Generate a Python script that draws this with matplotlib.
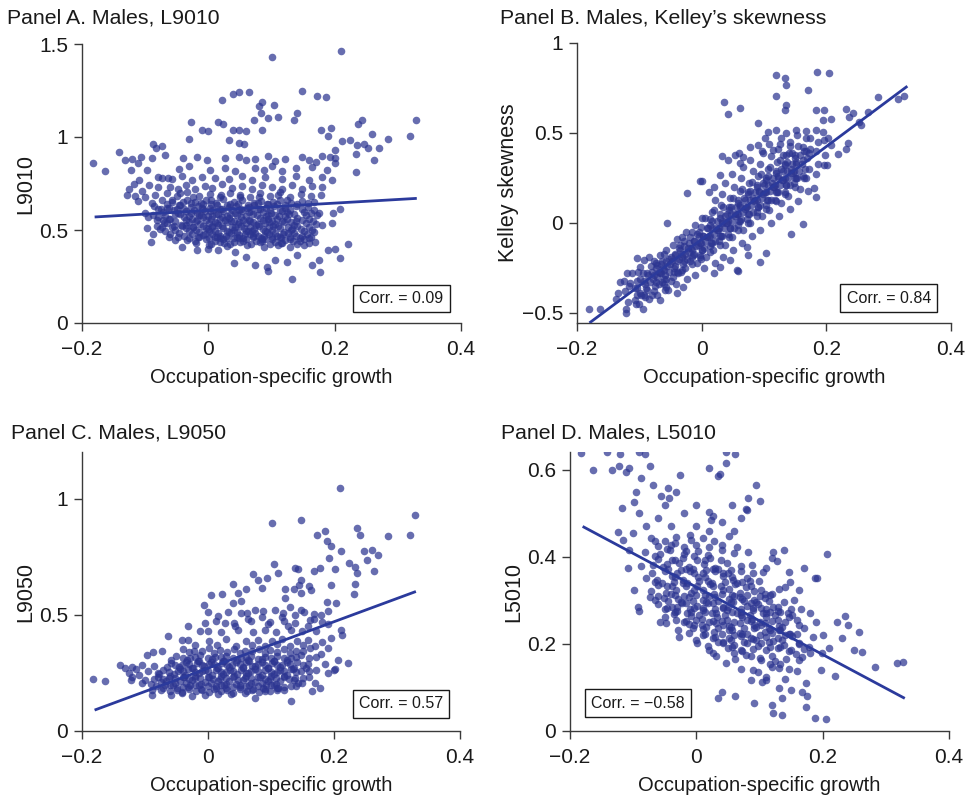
import numpy as np
import matplotlib
matplotlib.use("Agg")
import matplotlib.pyplot as plt

plt.rcParams['font.family'] = ['Liberation Sans', 'DejaVu Sans']

# ---------------- data ----------------
panel_titles = ["Panel A. Males, L9010", "Panel B. Males, Kelley\u2019s skewness",
                "Panel C. Males, L9050", "Panel D. Males, L5010"]
y_labels = ["L9010", "Kelley skewness", "L9050", "L5010"]
x_label = "Occupation-specific growth"
corr_texts = ["Corr. = 0.09", "Corr. = 0.84", "Corr. = 0.57", "Corr. = \u22120.58"]

x_ticks = [-0.2, 0.0, 0.2, 0.4]
x_tick_labels = ["\u22120.2", "0", "0.2", "0.4"]
a_yticks = [0, 0.5, 1, 1.5]
a_ytick_labels = ["0", "0.5", "1", "1.5"]
b_yticks = [-0.5, 0, 0.5, 1]
b_ytick_labels = ["\u22120.5", "0", "0.5", "1"]
c_yticks = [0, 0.5, 1]
c_ytick_labels = ["0", "0.5", "1"]
d_yticks = [0, 0.2, 0.4, 0.6]
d_ytick_labels = ["0", "0.2", "0.4", "0.6"]

# fitted lines (endpoints)
fit_x = [-0.18, 0.33]
a_fit_y = [0.57, 0.67]
b_fit_y = [-0.555, 0.76]
c_fit_y = [0.09, 0.60]
d_fit_y = [0.47, 0.075]

a_points = [
(0.101,1.43),(0.210,1.46),(0.022,1.20),(0.039,1.23),(0.049,1.24),(0.064,1.24),(0.148,1.25),(0.172,1.22),(0.186,1.215),
(0.080,1.165),(0.085,1.19),(0.104,1.17),(0.083,1.13),(0.095,1.10),(0.111,1.11),(0.141,1.13),(0.136,1.09),(0.072,1.09),
(-0.027,1.08),(0.016,1.08),(0.024,1.07),(-0.010,1.04),(0.000,1.03),(0.039,1.035),(0.048,1.04),(0.060,1.03),(0.085,1.04),
(-0.031,0.99),(0.032,0.985),(0.048,0.97),(0.056,0.965),(0.178,1.04),(0.194,1.05),(0.190,1.005),(0.237,1.07),(0.243,1.09),
(0.329,1.09),(0.320,1.005),(0.285,0.99),(0.259,1.015),(0.211,0.98),(0.224,0.985),(0.236,0.955),(0.247,0.96),(0.253,0.94),
(0.270,0.94),(0.263,0.875),(0.234,0.91),(0.233,0.81),(0.201,0.93),(0.193,0.895),(0.201,0.885),
(-0.182,0.86),(-0.163,0.815),(-0.141,0.92),(-0.132,0.875),(-0.121,0.88),(-0.106,0.89),(-0.089,0.885),(-0.122,0.825),
(-0.111,0.86),(-0.097,0.825),(-0.087,0.96),(-0.083,0.94),(-0.073,0.95),(-0.069,0.905),(-0.118,0.75),(-0.129,0.69),
(-0.116,0.683),(-0.100,0.68),(-0.094,0.742),(-0.079,0.787),(-0.064,0.778),(-0.060,0.733),(-0.089,0.643),(-0.100,0.59),
(-0.097,0.51),(-0.090,0.437),(-0.087,0.48),(-0.081,0.554),(-0.073,0.518),(-0.063,0.464),(-0.052,0.446),(-0.042,0.41),
(-0.110,0.77),(-0.125,0.72),(-0.105,0.71),(-0.112,0.655),(-0.095,0.57),(-0.080,0.615),
(-0.018,0.392),(0.000,0.40),(0.016,0.392),(0.043,0.383),(0.040,0.325),(0.059,0.357),(0.074,0.312),(0.093,0.303),
(0.094,0.28),(0.106,0.339),(0.125,0.33),(0.132,0.235),(0.140,0.366),(0.164,0.312),(0.177,0.276),(0.175,0.339),
(0.190,0.392),(0.201,0.40),(0.209,0.348),(0.221,0.423),(0.196,0.539),(0.198,0.59),(0.209,0.611),(0.180,0.527),(0.175,0.59),
(-0.040,0.885),(-0.018,0.892),(-0.002,0.878),(0.027,0.887),(0.048,0.893),(0.059,0.874),(0.074,0.881),(0.095,0.896),
(0.106,0.869),(0.122,0.884),(0.148,0.891),(0.159,0.878),(0.170,0.868),(0.180,0.897),(0.200,0.86),
(-0.047,0.83),(-0.031,0.843),(0.003,0.824),(0.027,0.836),(0.043,0.817),(0.074,0.835),(0.088,0.824),(0.101,0.842),
(0.117,0.818),(0.138,0.831),(0.164,0.841),(0.188,0.822),
(-0.073,0.78),(-0.058,0.772),(-0.042,0.792),(-0.026,0.768),(-0.010,0.787),(0.011,0.779),(0.032,0.774),(0.053,0.791),
(0.069,0.768),(0.090,0.786),(0.117,0.774),(0.138,0.792),(0.159,0.769),(0.180,0.784),(0.196,0.771),
(-0.079,0.731),(-0.048,0.722),(-0.036,0.742),(-0.021,0.718),(-0.006,0.736),(0.006,0.728),(0.022,0.747),(0.037,0.724),
(0.053,0.737),(0.069,0.719),(0.085,0.741),(0.101,0.729),(0.117,0.723),(0.132,0.742),(0.148,0.718),(0.164,0.736),(0.180,0.731),
(-0.085,0.69),(-0.065,0.697),(-0.050,0.681),(-0.033,0.702),(-0.015,0.684),(0.002,0.696),(0.018,0.679),(0.035,0.701),
(0.050,0.689),(0.066,0.678),(0.082,0.697),(0.098,0.683),(0.114,0.702),(0.130,0.679),(0.146,0.692),(0.162,0.684),(0.178,0.69),
(-0.074,0.660),(-0.057,0.648),(-0.033,0.662),(-0.021,0.651),(-0.004,0.659),(0.012,0.645),(0.023,0.664),(0.041,0.653),
(0.053,0.661),(0.072,0.647),(0.084,0.658),(0.102,0.650),(0.113,0.663),(0.131,0.646),(0.149,0.657),(0.168,0.652),
(-0.086,0.628),(-0.063,0.619),(-0.046,0.632),(-0.028,0.621),(-0.016,0.630),(0.002,0.617),(0.014,0.634),(0.032,0.622),
(0.044,0.629),(0.061,0.616),(0.073,0.633),(0.092,0.620),(0.104,0.627),(0.121,0.618),(0.139,0.631),(0.158,0.623),
(-0.071,0.598),(-0.048,0.589),(-0.036,0.603),(-0.018,0.591),(-0.006,0.600),(0.012,0.587),(0.024,0.601),(0.042,0.593),
(0.054,0.604),(0.071,0.588),(0.086,0.597),(0.099,0.590),(0.116,0.602),(0.128,0.586),(0.151,0.599),(0.163,0.592),
(-0.079,0.568),(-0.062,0.559),(-0.039,0.571),(-0.026,0.561),(-0.008,0.569),(0.004,0.557),(0.021,0.572),(0.033,0.562),
(0.051,0.570),(0.064,0.556),(0.082,0.567),(0.094,0.560),(0.112,0.573),(0.124,0.558),(0.141,0.566),(0.159,0.561),
(-0.066,0.538),(-0.044,0.529),(-0.031,0.541),(-0.013,0.531),(0.001,0.539),(0.016,0.527),(0.029,0.542),(0.047,0.532),
(0.059,0.540),(0.076,0.526),(0.089,0.537),(0.106,0.530),(0.119,0.543),(0.136,0.528),(0.154,0.536),(0.171,0.531),
(-0.076,0.508),(-0.053,0.499),(-0.036,0.511),(-0.019,0.501),(-0.004,0.509),(0.011,0.497),(0.024,0.512),(0.041,0.502),
(0.056,0.510),(0.069,0.496),(0.086,0.507),(0.101,0.500),(0.114,0.513),(0.131,0.498),(0.146,0.506),(0.164,0.501),
(-0.061,0.478),(-0.039,0.469),(-0.026,0.481),(-0.009,0.471),(0.006,0.479),(0.019,0.467),(0.036,0.482),(0.049,0.472),
(0.066,0.480),(0.079,0.466),(0.096,0.477),(0.109,0.470),(0.126,0.483),(0.139,0.468),(0.156,0.476),
(-0.034,0.448),(-0.021,0.439),(-0.004,0.451),(0.011,0.441),(0.024,0.449),(0.041,0.437),(0.059,0.452),(0.076,0.442),
(0.089,0.450),(0.106,0.436),(0.121,0.447),(0.134,0.440),(0.151,0.453),(0.169,0.438),
(0.001,0.418),(0.029,0.412),(0.061,0.420),(0.088,0.409),(0.111,0.417),(0.129,0.411),(0.152,0.421),
(-0.012,0.645),(0.018,0.612),(0.048,0.607),(0.078,0.612),(0.006,0.575),(0.036,0.548),(0.066,0.548),(0.096,0.545),
(-0.024,0.515),(0.006,0.520),(0.033,0.488),(0.063,0.492),(0.093,0.488),(-0.015,0.46),(0.018,0.455),(0.048,0.458),
(0.083,0.458),(0.113,0.46),
(-0.066,0.641),(-0.045,0.636),(-0.027,0.643),(-0.008,0.638),(0.005,0.642),(0.030,0.637),(0.047,0.640),(0.063,0.635),
(0.078,0.644),(0.093,0.638),(0.109,0.641),(0.122,0.636),(0.140,0.639),(0.158,0.643),
(-0.075,0.611),(-0.055,0.606),(-0.038,0.614),(-0.023,0.607),(-0.009,0.612),(0.008,0.605),(0.022,0.613),(0.038,0.608),
(0.052,0.611),(0.067,0.604),(0.082,0.614),(0.098,0.606),(0.113,0.610),(0.130,0.607),(0.148,0.613),(0.167,0.608),
(-0.088,0.582),(-0.069,0.576),(-0.052,0.584),(-0.031,0.577),(-0.014,0.583),(0.000,0.575),(0.016,0.584),(0.030,0.577),
(0.045,0.582),(0.060,0.574),(0.077,0.583),(0.091,0.577),(0.105,0.581),(0.121,0.575),(0.135,0.584),(0.155,0.578),(0.172,0.581),
(-0.072,0.552),(-0.053,0.546),(-0.035,0.554),(-0.019,0.547),(-0.003,0.553),(0.010,0.545),(0.026,0.554),(0.041,0.547),
(0.055,0.552),(0.071,0.544),(0.086,0.553),(0.101,0.546),(0.116,0.551),(0.131,0.545),(0.148,0.554),(0.165,0.548),
(-0.082,0.522),(-0.058,0.516),(-0.041,0.524),(-0.024,0.517),(-0.009,0.523),(0.006,0.515),(0.021,0.524),(0.037,0.517),
(0.051,0.522),(0.066,0.514),(0.081,0.523),(0.096,0.516),(0.110,0.521),(0.126,0.515),(0.141,0.524),(0.160,0.518),
(-0.068,0.492),(-0.047,0.486),(-0.031,0.494),(-0.014,0.487),(0.001,0.493),(0.015,0.485),(0.030,0.494),(0.045,0.487),
(0.060,0.492),(0.074,0.484),(0.090,0.493),(0.105,0.486),(0.120,0.491),(0.135,0.485),(0.151,0.494),(0.168,0.488),
(-0.048,0.462),(-0.030,0.456),(-0.016,0.464),(0.001,0.457),(0.014,0.463),(0.030,0.455),(0.045,0.464),(0.055,0.457),
(0.070,0.462),(0.085,0.454),(0.100,0.463),(0.115,0.456),(0.130,0.461),(0.145,0.455),(0.162,0.464),
(-0.020,0.432),(0.005,0.426),(0.018,0.434),(0.035,0.427),(0.050,0.433),(0.068,0.425),(0.082,0.434),(0.098,0.427),
(0.116,0.432),(0.140,0.426),(0.160,0.430),
(-0.028,0.594),(-0.012,0.578),(0.003,0.603),(0.019,0.560),(0.034,0.585),(0.049,0.545),(0.064,0.598),(0.079,0.530),
(0.094,0.582),(0.108,0.560),(0.124,0.595),(0.139,0.548),
(-0.035,0.525),(-0.018,0.552),(-0.001,0.505),(0.014,0.538),(0.028,0.470),(0.043,0.518),(0.058,0.480),(0.073,0.505),
(0.088,0.470),(0.103,0.520),(0.118,0.478),(0.133,0.505),(0.148,0.470),
(-0.045,0.585),(-0.050,0.615),(-0.040,0.650),(-0.025,0.675),(-0.010,0.620),(0.005,0.660),(0.020,0.690),(0.035,0.640),
(0.050,0.675),(0.065,0.625),(0.080,0.675),(0.095,0.640),(0.110,0.690),(0.125,0.660),
(-0.005,0.478),(0.010,0.462),(0.025,0.430),(0.040,0.455),(0.055,0.440),(0.070,0.470),(0.085,0.440),(0.100,0.450),
(0.115,0.430),(0.130,0.450),(0.145,0.440),(0.160,0.455),
(-0.060,0.560),(-0.070,0.540),(-0.055,0.520),(-0.065,0.620),(-0.058,0.660),(-0.045,0.700),
]

b_points = [
(0.120,0.822),(0.133,0.804),(0.135,0.767),(0.185,0.841),(0.204,0.831),(0.171,0.739),(0.119,0.706),(0.135,0.656),
(0.133,0.628),(0.036,0.674),(0.042,0.604),(0.061,0.641),(0.091,0.554),(0.184,0.628),(0.197,0.628),(0.195,0.572),
(0.208,0.576),(0.232,0.631),(0.243,0.609),(0.267,0.619),(0.283,0.698),(0.315,0.687),(0.325,0.706),(0.237,0.587),
(0.253,0.563),(0.256,0.544),(0.235,0.443),(0.218,0.381),(0.232,0.409),(0.208,0.433),(0.195,0.507),(0.197,0.461),
(0.197,0.322),(0.180,0.193),(0.184,0.143),(0.163,-0.007),(0.144,-0.061),(0.103,-0.165),(0.093,-0.217),(0.058,-0.265),
(0.032,0.374),(0.060,0.387),(-0.024,0.165),(-0.003,0.235),(-0.056,-0.002),
(-0.180,-0.478),(-0.163,-0.48),(-0.121,-0.476),(-0.094,-0.478),(-0.137,-0.424),(-0.134,-0.387),(-0.125,-0.32),
(-0.112,-0.28),(-0.099,-0.243),(-0.103,-0.196),(-0.120,-0.28),(-0.093,-0.206),(-0.085,-0.19),(-0.072,-0.235),
(-0.067,-0.28),(-0.057,-0.354),(-0.050,-0.32),(-0.040,-0.27),(-0.030,-0.354),(-0.040,-0.39),(-0.099,-0.39),
(-0.107,-0.428),(-0.080,-0.40),(-0.067,-0.428),(-0.059,-0.37),(-0.115,-0.335),(-0.131,-0.326),
(-0.003,-0.187),(0.019,-0.28),(0.030,-0.243),(0.056,-0.261),(0.045,-0.206),(0.075,-0.178),(0.072,-0.131),
(-0.121,-0.50),(-0.118,-0.44),(-0.123,-0.38),(-0.117,-0.35),
(-0.101,-0.45),(-0.098,-0.40),(-0.103,-0.36),(-0.099,-0.31),(-0.102,-0.27),
(-0.084,-0.42),(-0.087,-0.37),(-0.083,-0.33),(-0.086,-0.29),(-0.082,-0.24),
(-0.071,-0.40),(-0.068,-0.34),(-0.072,-0.30),(-0.069,-0.27),(-0.073,-0.22),(-0.067,-0.18),
(-0.054,-0.37),(-0.057,-0.31),(-0.053,-0.27),(-0.056,-0.24),(-0.052,-0.20),(-0.058,-0.15),
(-0.041,-0.34),(-0.038,-0.28),(-0.043,-0.24),(-0.039,-0.21),(-0.042,-0.18),(-0.037,-0.14),(-0.040,-0.09),
(-0.024,-0.31),(-0.027,-0.25),(-0.023,-0.20),(-0.026,-0.17),(-0.022,-0.14),(-0.028,-0.10),(-0.025,-0.05),
(-0.011,-0.29),(-0.008,-0.22),(-0.012,-0.17),(-0.009,-0.13),(-0.013,-0.10),(-0.007,-0.06),(-0.010,-0.01),
(0.004,-0.25),(0.007,-0.19),(0.003,-0.14),(0.006,-0.10),(0.002,-0.07),(0.008,-0.03),(0.005,0.03),
(0.021,-0.22),(0.018,-0.15),(0.022,-0.10),(0.019,-0.06),(0.023,-0.03),(0.017,0.01),(0.020,0.07),(0.022,0.13),
(0.034,-0.19),(0.037,-0.12),(0.033,-0.07),(0.036,-0.03),(0.032,0.00),(0.038,0.04),(0.035,0.09),(0.033,0.16),(0.037,0.22),
(0.051,-0.15),(0.048,-0.08),(0.052,-0.03),(0.049,0.01),(0.053,0.05),(0.047,0.09),(0.050,0.14),(0.052,0.20),(0.048,0.27),
(0.064,-0.11),(0.067,-0.04),(0.063,0.02),(0.066,0.06),(0.062,0.10),(0.068,0.14),(0.065,0.19),(0.063,0.25),(0.067,0.31),
(0.081,-0.07),(0.078,0.00),(0.082,0.06),(0.079,0.10),(0.083,0.14),(0.077,0.18),(0.080,0.23),(0.082,0.29),(0.078,0.35),
(0.094,-0.04),(0.097,0.04),(0.093,0.10),(0.096,0.14),(0.092,0.18),(0.098,0.22),(0.095,0.27),(0.093,0.33),(0.097,0.40),
(0.111,0.00),(0.108,0.07),(0.112,0.13),(0.109,0.18),(0.113,0.22),(0.107,0.26),(0.110,0.31),(0.112,0.37),(0.108,0.44),
(0.124,0.04),(0.127,0.11),(0.123,0.17),(0.126,0.21),(0.122,0.26),(0.128,0.30),(0.125,0.35),(0.123,0.41),(0.127,0.47),
(0.141,0.08),(0.138,0.15),(0.142,0.21),(0.139,0.25),(0.143,0.30),(0.137,0.34),(0.140,0.39),(0.142,0.45),
(0.154,0.12),(0.157,0.19),(0.153,0.25),(0.156,0.29),(0.152,0.34),(0.158,0.38),(0.155,0.43),(0.153,0.49),
(0.171,0.18),(0.168,0.25),(0.172,0.30),(0.169,0.36),(0.173,0.41),(0.167,0.47),
(0.184,0.27),(0.187,0.33),(0.183,0.40),(0.186,0.45),
(0.201,0.32),(0.198,0.38),(0.202,0.47),
(-0.093,-0.40),(-0.091,-0.34),(-0.094,-0.28),(-0.063,-0.33),(-0.061,-0.26),(-0.064,-0.21),(-0.033,-0.27),(-0.031,-0.19),
(-0.034,-0.12),(-0.018,-0.21),(-0.016,-0.15),(-0.019,-0.08),(-0.003,-0.18),(-0.001,-0.11),(-0.004,-0.05),(0.013,-0.13),
(0.011,-0.08),(0.014,-0.01),(0.028,-0.10),(0.026,-0.04),(0.029,0.03),(0.043,-0.06),(0.041,0.00),(0.044,0.07),
(0.058,-0.01),(0.056,0.05),(0.059,0.11),(0.073,0.02),(0.071,0.09),(0.074,0.16),(0.088,0.06),(0.086,0.13),(0.089,0.20),
(0.103,0.10),(0.101,0.17),(0.104,0.24),(0.118,0.13),(0.116,0.20),(0.119,0.28),(0.133,0.17),(0.131,0.24),(0.134,0.32),
(0.148,0.22),(0.146,0.28),(0.149,0.36),(0.163,0.26),(0.161,0.33),(0.164,0.40),
(0.184,0.517),(0.168,0.51),(0.173,0.47),(0.152,0.517),(0.135,0.498),(0.120,0.517),(0.107,0.507),(0.101,0.47),
(0.125,0.44),(0.141,0.43),(0.163,0.42),(0.172,0.39),(0.145,0.39),(0.131,0.38),(0.115,0.406),(0.099,0.39),
(0.091,0.433),(0.077,0.424),(0.067,0.369),(0.061,0.331),(0.053,0.38),(0.043,0.35),(0.029,0.267),(0.019,0.202),
(0.011,0.174),(0.000,0.235),
(-0.106,-0.45),(-0.104,-0.40),(-0.107,-0.36),(-0.103,-0.32),
(-0.091,-0.41),(-0.089,-0.36),(-0.092,-0.32),(-0.088,-0.28),
(-0.076,-0.38),(-0.074,-0.33),(-0.077,-0.29),(-0.073,-0.25),(-0.076,-0.21),
(-0.061,-0.34),(-0.059,-0.29),(-0.062,-0.25),(-0.058,-0.21),(-0.061,-0.17),
(-0.046,-0.30),(-0.044,-0.25),(-0.047,-0.21),(-0.043,-0.17),(-0.046,-0.12),
(-0.031,-0.26),(-0.029,-0.21),(-0.032,-0.17),(-0.028,-0.13),(-0.031,-0.08),
(-0.016,-0.23),(-0.014,-0.18),(-0.017,-0.14),(-0.013,-0.10),(-0.016,-0.05),
(-0.001,-0.20),(0.001,-0.15),(-0.002,-0.11),(0.002,-0.07),(-0.001,-0.02),(0.001,0.03),
(0.014,-0.16),(0.016,-0.11),(0.013,-0.07),(0.017,-0.03),(0.014,0.02),(0.016,0.06),
(0.029,-0.12),(0.031,-0.07),(0.028,-0.03),(0.032,0.01),(0.029,0.05),(0.031,0.10),
(0.044,-0.08),(0.046,-0.03),(0.043,0.01),(0.047,0.05),(0.044,0.09),(0.046,0.14),
(0.059,-0.04),(0.061,0.01),(0.058,0.05),(0.062,0.09),(0.059,0.13),(0.061,0.18),
(0.074,0.00),(0.076,0.05),(0.073,0.09),(0.077,0.13),(0.074,0.17),(0.076,0.22),
(0.089,0.04),(0.091,0.09),(0.088,0.13),(0.092,0.17),(0.089,0.21),(0.091,0.26),
(0.104,0.08),(0.106,0.13),(0.103,0.17),(0.107,0.21),(0.104,0.25),(0.106,0.30),
(0.119,0.12),(0.121,0.17),(0.118,0.21),(0.122,0.25),(0.119,0.29),(0.121,0.34),
(0.134,0.16),(0.136,0.21),(0.133,0.25),(0.137,0.29),(0.134,0.33),(0.136,0.38),
(0.149,0.20),(0.151,0.25),(0.148,0.29),(0.152,0.33),(0.149,0.38),
(0.164,0.25),(0.166,0.30),(0.163,0.35),(0.167,0.40),
(-0.078,-0.31),(-0.066,-0.28),(-0.051,-0.23),(-0.036,-0.20),(-0.021,-0.16),(-0.006,-0.12),(0.009,-0.08),(0.024,-0.04),
(0.039,0.00),(0.054,0.04),(0.069,0.08),(0.084,0.12),(0.099,0.16),(0.114,0.20),(0.129,0.24),(0.144,0.28),
(-0.080,-0.27),(-0.065,-0.23),(-0.050,-0.19),(-0.035,-0.15),(-0.020,-0.11),(-0.005,-0.07),(0.010,-0.03),(0.025,0.01),
(0.040,0.05),(0.055,0.09),(0.070,0.13),(0.085,0.17),(0.100,0.21),(0.115,0.25),(0.130,0.29),(0.145,0.33),
(-0.075,-0.35),(-0.060,-0.31),(-0.045,-0.27),(-0.030,-0.23),(-0.015,-0.19),(0.000,-0.15),(0.015,-0.11),(0.030,-0.07),
(0.045,-0.03),(0.060,0.01),(0.075,0.05),(0.090,0.09),(0.105,0.13),(0.120,0.17),(0.135,0.21),(0.150,0.25),
]

c_points = [
(0.210,1.046),(0.102,0.895),(0.148,0.907),(0.173,0.841),(0.186,0.862),(0.189,0.819),(0.195,0.795),(0.236,0.874),
(0.242,0.842),(0.285,0.838),(0.320,0.845),(0.329,0.927),(0.247,0.773),(0.260,0.780),(0.270,0.759),(0.252,0.737),
(0.211,0.773),(0.192,0.744),(0.224,0.723),(0.234,0.705),(0.236,0.680),(0.263,0.687),(0.178,0.701),(0.169,0.687),
(0.201,0.697),(0.196,0.629),(0.234,0.632),(0.232,0.590),(0.104,0.718),(0.111,0.680),(0.138,0.701),(0.143,0.698),
(0.148,0.651),(0.144,0.629),(0.161,0.622),(0.164,0.608),(0.072,0.677),(0.080,0.651),(0.093,0.658),(0.039,0.632),
(0.061,0.612),(0.085,0.615),(0.122,0.611),(0.136,0.611),(0.048,0.593),(0.053,0.557),(0.005,0.583),(0.022,0.590),
(-0.007,0.543),(0.000,0.511),(0.040,0.550),(0.122,0.572),(0.130,0.533),(0.148,0.593),(0.189,0.553),(0.203,0.550),
(0.190,0.514),(0.211,0.435),(0.212,0.414),(0.222,0.292),(0.202,0.266),(0.190,0.359),(0.177,0.184),(0.131,0.129),
(0.074,0.144),
(-0.182,0.223),(-0.163,0.213),(-0.140,0.282),(-0.132,0.270),(-0.121,0.234),(-0.123,0.220),(-0.105,0.284),
(-0.097,0.328),(-0.088,0.338),(-0.073,0.342),
(-0.061,0.172),(-0.042,0.166),(-0.019,0.174),(0.002,0.168),(0.021,0.171),(0.039,0.165),(0.062,0.173),(0.081,0.167),
(0.098,0.170),(0.121,0.175),
(-0.091,0.202),(-0.068,0.196),(-0.052,0.205),(-0.029,0.198),(-0.011,0.203),(0.012,0.195),(0.028,0.204),(0.051,0.197),
(0.069,0.206),(0.092,0.199),(0.108,0.201),(0.131,0.194),(0.149,0.205),
(-0.079,0.233),(-0.062,0.226),(-0.038,0.234),(-0.021,0.227),(0.002,0.232),(0.019,0.225),(0.041,0.235),(0.058,0.228),
(0.082,0.231),(0.099,0.224),(0.121,0.236),(0.138,0.229),(0.161,0.232),
(-0.071,0.262),(-0.048,0.256),(-0.031,0.265),(-0.009,0.257),(0.012,0.263),(0.029,0.255),(0.052,0.264),(0.068,0.258),
(0.091,0.261),(0.109,0.254),(0.131,0.266),(0.148,0.259),(0.171,0.262),
(-0.059,0.292),(-0.042,0.286),(-0.018,0.294),(0.001,0.287),(0.022,0.293),(0.038,0.285),(0.061,0.295),(0.079,0.288),
(0.102,0.291),(0.118,0.284),(0.141,0.296),(0.158,0.289),
(-0.051,0.322),(-0.028,0.316),(-0.012,0.325),(0.011,0.317),(0.028,0.323),(0.052,0.315),(0.069,0.324),(0.091,0.318),
(0.109,0.321),(0.132,0.314),(0.148,0.326),(0.171,0.319),
(-0.039,0.352),(-0.022,0.346),(0.002,0.355),(0.019,0.347),(0.042,0.353),(0.058,0.345),(0.081,0.354),(0.098,0.348),
(0.121,0.351),(0.139,0.344),(0.162,0.356),
(-0.031,0.392),(0.002,0.385),(0.029,0.394),(0.061,0.387),(0.079,0.393),(0.102,0.386),(0.118,0.395),(0.141,0.388),
(0.159,0.391),(0.181,0.384),
(-0.012,0.432),(0.021,0.426),(0.048,0.435),(0.072,0.427),(0.091,0.433),(0.108,0.425),(0.132,0.436),(0.149,0.428),(0.171,0.431),
(0.012,0.472),(0.041,0.466),(0.069,0.475),(0.098,0.467),(0.121,0.473),(0.138,0.465),(0.162,0.476),(0.181,0.469),
(0.031,0.512),(0.062,0.506),(0.088,0.515),(0.119,0.507),(0.152,0.513),(0.168,0.505),
(-0.071,0.186),(-0.049,0.183),(-0.032,0.188),(-0.011,0.182),(0.012,0.187),(0.029,0.184),(0.051,0.189),(0.072,0.181),
(0.088,0.186),(0.111,0.183),
(-0.066,0.216),(-0.044,0.213),(-0.026,0.219),(-0.004,0.212),(0.016,0.217),(0.034,0.214),(0.056,0.218),(0.074,0.211),
(0.096,0.216),(0.114,0.213),(0.136,0.219),
(-0.054,0.246),(-0.036,0.243),(-0.014,0.249),(0.006,0.242),(0.024,0.247),(0.046,0.244),(0.064,0.248),(0.086,0.241),
(0.104,0.246),(0.126,0.243),
(-0.046,0.276),(-0.024,0.273),(-0.006,0.279),(0.016,0.272),(0.034,0.277),(0.056,0.274),(0.074,0.278),(0.096,0.271),
(0.114,0.276),(0.136,0.273),
(-0.034,0.306),(-0.016,0.303),(0.006,0.309),(0.024,0.302),(0.046,0.307),(0.064,0.304),(0.086,0.308),(0.104,0.301),(0.126,0.306),
(-0.121,0.277),(-0.126,0.249),(-0.105,0.205),(-0.089,0.177),(-0.089,0.155),(-0.075,0.175),(-0.058,0.155),(-0.042,0.162),
(-0.025,0.150),(-0.005,0.155),(0.016,0.160),(0.037,0.158),(0.059,0.162),(0.090,0.170),(0.110,0.185),(0.143,0.205),
(0.170,0.205),(0.190,0.249),(0.200,0.262),(0.206,0.306),
(-0.063,0.407),(-0.042,0.392),(-0.031,0.450),(-0.005,0.464),(0.000,0.430),(0.016,0.493),(0.027,0.464),(0.043,0.452),
(0.053,0.507),(0.064,0.480),(0.074,0.522),(0.085,0.490),(0.096,0.460),(0.106,0.522),(0.117,0.490),(0.127,0.450),
(0.138,0.500),(0.148,0.520),(0.159,0.450),(0.169,0.480),(0.180,0.500),(0.190,0.460),(0.195,0.400),(0.180,0.330),
(0.185,0.290),(0.165,0.170),(0.155,0.270),
(-0.115,0.265),(-0.110,0.240),(-0.100,0.220),(-0.095,0.260),(-0.085,0.280),(-0.080,0.250),
(-0.082,0.193),(-0.060,0.197),(-0.040,0.191),(-0.020,0.196),(0.000,0.192),(0.020,0.198),(0.040,0.190),(0.060,0.195),
(0.080,0.192),(0.100,0.197),(0.120,0.191),(0.140,0.195),
(-0.072,0.224),(-0.052,0.228),(-0.030,0.222),(-0.012,0.227),(0.008,0.223),(0.028,0.229),(0.048,0.221),(0.068,0.226),
(0.090,0.223),(0.108,0.228),(0.128,0.222),(0.150,0.226),
(-0.062,0.254),(-0.040,0.258),(-0.020,0.252),(0.000,0.257),(0.020,0.253),(0.040,0.259),(0.060,0.251),(0.080,0.256),
(0.100,0.253),(0.120,0.258),(0.140,0.252),(0.160,0.256),
(-0.052,0.284),(-0.030,0.288),(-0.010,0.282),(0.010,0.287),(0.030,0.283),(0.050,0.289),(0.070,0.281),(0.090,0.286),
(0.110,0.283),(0.130,0.288),(0.150,0.282),
(-0.040,0.314),(-0.020,0.318),(0.000,0.312),(0.020,0.317),(0.040,0.313),(0.060,0.319),(0.080,0.311),(0.100,0.316),
(0.120,0.313),(0.140,0.318),(0.160,0.312),
(-0.030,0.338),(-0.010,0.342),(0.010,0.336),(0.030,0.341),(0.050,0.337),(0.070,0.343),(0.090,0.335),(0.110,0.340),
(0.130,0.337),(0.150,0.342),
(-0.020,0.368),(0.015,0.372),(0.045,0.366),(0.070,0.371),(0.090,0.367),(0.110,0.373),(0.130,0.365),(0.150,0.370),(0.170,0.367),
(-0.050,0.177),(-0.030,0.179),(-0.010,0.176),(0.010,0.180),(0.030,0.177),(0.050,0.179),(0.070,0.176),(0.090,0.180),(0.110,0.177),
(-0.055,0.200),(-0.035,0.205),(-0.015,0.200),(0.005,0.206),(0.025,0.199),(0.045,0.204),(0.065,0.200),(0.085,0.205),(0.105,0.199),
(-0.060,0.238),(-0.040,0.232),(-0.020,0.238),(0.000,0.231),(0.020,0.237),(0.040,0.232),(0.060,0.238),(0.080,0.231),
(0.100,0.237),(0.120,0.232),
(-0.045,0.265),(-0.025,0.270),(-0.005,0.264),(0.015,0.269),(0.035,0.264),(0.055,0.270),(0.075,0.265),(0.095,0.269),
(0.115,0.264),(0.135,0.268),
(-0.035,0.296),(-0.015,0.300),(0.005,0.295),(0.025,0.300),(0.045,0.296),(0.065,0.300),(0.085,0.295),(0.105,0.300),(0.125,0.295),
(-0.075,0.210),(-0.085,0.225),(-0.078,0.245),(-0.065,0.275),(-0.058,0.305),
]

d_points = [
(-0.182,0.638),(-0.141,0.640),(-0.121,0.636),(-0.090,0.642),(-0.082,0.637),(0.047,0.640),(0.061,0.636),
(-0.163,0.600),(-0.133,0.600),(-0.122,0.608),(-0.111,0.596),(-0.106,0.604),(-0.074,0.608),(-0.088,0.581),
(-0.026,0.588),(0.020,0.604),(0.034,0.585),(0.038,0.590),(0.047,0.615),(-0.069,0.565),(-0.095,0.550),(-0.045,0.558),
(-0.032,0.548),(-0.117,0.513),(-0.098,0.527),(-0.056,0.539),(-0.043,0.535),(0.000,0.520),(0.020,0.504),(0.026,0.493),
(0.023,0.485),(0.057,0.520),(0.082,0.535),(0.100,0.529),(0.094,0.566),(0.078,0.510),(0.081,0.508),
(0.207,0.406),(0.188,0.352),(0.191,0.352),(0.170,0.374),(0.146,0.366),(0.149,0.343),(0.162,0.323),(0.121,0.412),
(0.139,0.416),(0.119,0.397),(0.128,0.390),
(0.235,0.265),(0.240,0.244),(0.257,0.228),(0.223,0.251),(0.230,0.213),(0.249,0.186),(0.262,0.182),(0.199,0.179),
(0.220,0.126),(0.283,0.146),(0.317,0.157),(0.327,0.159),(0.198,0.140),
(0.188,0.029),(0.205,0.027),(0.174,0.054),(0.136,0.037),(0.121,0.041),(0.120,0.060),(0.091,0.065),(0.062,0.080),
(0.035,0.075),(0.041,0.090),(0.167,0.090),(0.175,0.080),(0.173,0.110),(0.150,0.094),(0.131,0.098),(0.136,0.075),
(0.086,0.117),(0.104,0.113),(0.110,0.125),(0.119,0.148),
(-0.071,0.443),(-0.049,0.437),(-0.032,0.446),(-0.009,0.438),(0.011,0.444),(0.028,0.436),(0.052,0.447),
(-0.081,0.412),(-0.058,0.406),(-0.041,0.415),(-0.019,0.407),(0.002,0.413),(0.018,0.405),(0.041,0.416),(0.059,0.408),(0.082,0.411),
(-0.069,0.382),(-0.052,0.376),(-0.028,0.385),(-0.011,0.377),(0.012,0.383),(0.029,0.375),(0.048,0.386),(0.071,0.378),
(0.088,0.381),(0.111,0.374),
(-0.079,0.352),(-0.062,0.346),(-0.038,0.355),(-0.021,0.347),(0.002,0.353),(0.019,0.345),(0.042,0.356),(0.058,0.348),
(0.081,0.351),(0.099,0.344),
(-0.071,0.322),(-0.048,0.316),(-0.032,0.325),(-0.009,0.317),(0.011,0.323),(0.028,0.315),(0.052,0.326),(0.069,0.318),
(0.091,0.321),(0.108,0.314),(0.131,0.326),
(-0.061,0.292),(-0.038,0.286),(-0.022,0.295),(0.001,0.287),(0.019,0.293),(0.042,0.285),(0.058,0.296),(0.081,0.288),
(0.098,0.291),(0.121,0.284),(0.139,0.296),
(-0.049,0.262),(-0.032,0.256),(-0.008,0.265),(0.009,0.257),(0.032,0.263),(0.048,0.255),(0.071,0.266),(0.088,0.258),
(0.111,0.261),(0.129,0.254),(0.152,0.266),
(-0.029,0.232),(-0.012,0.226),(0.011,0.235),(0.028,0.227),(0.052,0.233),(0.069,0.225),(0.091,0.236),(0.108,0.228),
(0.131,0.231),(0.148,0.224),(0.171,0.236),
(0.001,0.202),(0.018,0.196),(0.042,0.205),(0.059,0.197),(0.081,0.203),(0.098,0.195),(0.121,0.206),(0.138,0.198),
(0.162,0.201),(0.179,0.194),
(0.031,0.172),(0.061,0.166),(0.079,0.175),(0.101,0.167),(0.119,0.173),(0.142,0.165),(0.158,0.176),
(0.071,0.142),(0.098,0.136),(0.131,0.145),(0.159,0.137),
(-0.061,0.396),(-0.039,0.393),(-0.021,0.398),(0.001,0.392),(0.021,0.397),(0.039,0.394),
(-0.061,0.336),(-0.039,0.333),(-0.021,0.339),(0.001,0.332),(0.021,0.337),(0.039,0.334),(0.061,0.338),(0.079,0.331),
(-0.051,0.306),(-0.029,0.303),(-0.011,0.309),(0.011,0.302),(0.029,0.307),(0.051,0.304),(0.069,0.308),(0.091,0.301),(0.109,0.306),
(-0.031,0.276),(-0.009,0.273),(0.011,0.279),(0.031,0.272),(0.049,0.277),(0.071,0.274),(0.089,0.278),(0.111,0.271),(0.129,0.276),
(-0.011,0.246),(0.009,0.243),(0.031,0.249),(0.051,0.242),(0.069,0.247),(0.091,0.244),(0.109,0.248),(0.131,0.241),
(0.029,0.216),(0.051,0.213),(0.071,0.219),(0.089,0.212),(0.111,0.217),(0.129,0.214),(0.151,0.218),
(-0.124,0.458),(-0.100,0.454),(-0.116,0.439),(-0.106,0.416),(-0.108,0.374),(-0.087,0.378),(-0.098,0.324),(-0.092,0.286),
(-0.090,0.275),(-0.074,0.309),(-0.058,0.251),(-0.048,0.248),(-0.027,0.217),(0.000,0.210),(0.026,0.179),(0.047,0.156),
(0.060,0.180),(0.089,0.140),(0.110,0.117),(0.125,0.160),(0.140,0.120),(0.167,0.171),(0.180,0.180),
(-0.080,0.470),(-0.060,0.490),(-0.040,0.470),(-0.020,0.500),(0.000,0.470),(0.020,0.460),(0.040,0.480),(0.060,0.460),
(0.070,0.490),(-0.090,0.500),(-0.050,0.520),(-0.010,0.450),
(0.140,0.330),(0.155,0.300),(0.165,0.280),(0.180,0.270),(0.190,0.250),(0.200,0.220),(0.210,0.190),(0.185,0.215),
(-0.060,0.424),(-0.040,0.428),(-0.020,0.422),(0.000,0.427),(0.020,0.423),(0.040,0.428),(0.065,0.422),
(-0.070,0.364),(-0.050,0.368),(-0.030,0.362),(-0.010,0.367),(0.010,0.363),(0.030,0.368),(0.050,0.362),(0.070,0.367),
(0.090,0.363),(0.105,0.366),
(-0.060,0.311),(-0.040,0.314),(-0.020,0.310),(0.000,0.313),(0.020,0.311),(0.040,0.315),(0.060,0.310),(0.080,0.313),
(0.100,0.311),(0.120,0.314),
(-0.050,0.281),(-0.030,0.284),(-0.010,0.280),(0.010,0.283),(0.030,0.281),(0.050,0.285),(0.070,0.280),(0.090,0.283),
(0.110,0.281),(0.130,0.284),(0.150,0.280),
(-0.020,0.251),(0.000,0.254),(0.020,0.250),(0.040,0.253),(0.060,0.251),(0.080,0.255),(0.100,0.250),(0.120,0.253),
(0.140,0.251),(0.160,0.254),
(0.010,0.221),(0.040,0.224),(0.060,0.220),(0.080,0.223),(0.100,0.221),(0.120,0.225),(0.140,0.220),(0.160,0.223),
(0.020,0.187),(0.050,0.190),(0.070,0.186),(0.090,0.189),(0.110,0.187),(0.130,0.191),(0.150,0.186),(0.170,0.189),
(-0.045,0.372),(-0.025,0.370),(-0.005,0.372),(0.015,0.370),(0.035,0.373),(0.055,0.370),
(-0.055,0.340),(-0.035,0.343),(-0.015,0.340),(0.005,0.344),(0.025,0.340),(0.045,0.343),(0.065,0.340),(0.085,0.344),
(-0.045,0.298),(-0.025,0.296),(-0.005,0.299),(0.015,0.296),(0.035,0.299),(0.055,0.296),(0.075,0.299),(0.095,0.296),(0.115,0.299),
(-0.035,0.268),(-0.015,0.270),(0.005,0.267),(0.025,0.270),(0.045,0.267),(0.065,0.270),(0.085,0.267),(0.105,0.270),
(0.125,0.267),(0.145,0.270),
(-0.005,0.236),(0.015,0.239),(0.035,0.236),(0.055,0.239),(0.075,0.236),(0.095,0.239),(0.115,0.236),(0.135,0.239),
(0.035,0.205),(0.055,0.208),(0.075,0.205),(0.095,0.208),(0.115,0.205),(0.135,0.208),
(-0.066,0.300),(-0.066,0.343),(-0.066,0.403),(-0.066,0.437),
(-0.047,0.283),(-0.047,0.333),(-0.047,0.383),(-0.047,0.417),
(-0.033,0.273),(-0.033,0.313),(-0.033,0.353),(-0.033,0.393),(-0.033,0.433),
(-0.017,0.253),(-0.017,0.293),(-0.017,0.333),(-0.017,0.373),(-0.017,0.413),
(-0.003,0.243),(-0.003,0.283),(-0.003,0.323),(-0.003,0.363),(-0.003,0.403),
(0.013,0.223),(0.013,0.273),(0.013,0.313),(0.013,0.353),(0.013,0.393),
(0.027,0.213),(0.027,0.253),(0.027,0.293),(0.027,0.333),(0.027,0.373),
(0.043,0.203),(0.043,0.243),(0.043,0.283),(0.043,0.323),(0.043,0.363),
(0.057,0.193),(0.057,0.233),(0.057,0.273),(0.057,0.313),(0.057,0.353),
(0.073,0.183),(0.073,0.223),(0.073,0.263),(0.073,0.303),(0.073,0.343),
(0.087,0.173),(0.087,0.213),(0.087,0.253),(0.087,0.293),(0.087,0.333),
(0.103,0.163),(0.103,0.203),(0.103,0.243),(0.103,0.283),(0.103,0.323),
(0.117,0.153),(0.117,0.193),(0.117,0.233),(0.117,0.273),(0.117,0.313),
(0.133,0.153),(0.133,0.193),(0.133,0.233),(0.133,0.273),
(0.147,0.143),(0.147,0.183),(0.147,0.223),(0.147,0.263),
(0.163,0.163),(0.163,0.203),(0.163,0.243),
]

# ---------------- layout ----------------
W, H = 972, 796
fig = plt.figure(figsize=(W / 100, H / 100), dpi=100)

def box(l, r, t, b):
    return [l / W, 1 - b / H, (r - l) / W, (b - t) / H]

panels = [
    dict(rect=box(82, 461, 44, 323), pts=a_points, fit=a_fit_y, ylim=(0, 1.5),
         yt=a_yticks, ytl=a_ytick_labels, corr_xy=(0.843, 0.088), title_xy=(7, 18)),
    dict(rect=box(577, 951, 43, 323), pts=b_points, fit=b_fit_y, ylim=(-0.5556, 1.0),
         yt=b_yticks, ytl=b_ytick_labels, corr_xy=(0.834, 0.088), title_xy=(500, 18)),
    dict(rect=box(82, 460, 452, 731), pts=c_points, fit=c_fit_y, ylim=(0, 1.2),
         yt=c_yticks, ytl=c_ytick_labels, corr_xy=(0.844, 0.097), title_xy=(11, 433)),
    dict(rect=box(570, 949, 452, 731), pts=d_points, fit=d_fit_y, ylim=(0, 0.641),
         yt=d_yticks, ytl=d_ytick_labels, corr_xy=(0.18, 0.10), title_xy=(501, 433)),
]

dot_color = '#2c3591'
line_color = '#2b3a9c'
axis_color = '#3a3a3a'

for i, p in enumerate(panels):
    ax = fig.add_axes(p['rect'])
    pts = np.array(p['pts'])
    ax.scatter(pts[:, 0], pts[:, 1], s=30, color=dot_color, alpha=0.72,
               linewidths=0, zorder=2)
    ax.plot(fit_x, p['fit'], color=line_color, lw=2.0, zorder=3, solid_capstyle='butt')
    ax.set_xlim(-0.2, 0.4)
    ax.set_ylim(*p['ylim'])
    ax.set_xticks(x_ticks)
    ax.set_xticklabels(x_tick_labels)
    ax.set_yticks(p['yt'])
    ax.set_yticklabels(p['ytl'])
    for s in ['top', 'right']:
        ax.spines[s].set_visible(False)
    for s in ['left', 'bottom']:
        ax.spines[s].set_color(axis_color)
        ax.spines[s].set_linewidth(1.0)
    ax.tick_params(direction='out', length=6, width=1.0, color=axis_color,
                   labelsize=15, pad=4, labelcolor='#1a1a1a')
    ax.tick_params(axis='x', pad=6)
    ax.set_xlabel(x_label, fontsize=14.5, labelpad=7, color='#1a1a1a')
    ax.set_ylabel(y_labels[i], fontsize=15.5, labelpad=2, color='#1a1a1a')
    ax.text(p['corr_xy'][0], p['corr_xy'][1], corr_texts[i], transform=ax.transAxes,
            ha='center', va='center', fontsize=11.5, color='#1a1a1a', zorder=5,
            bbox=dict(boxstyle='square,pad=0.4', fc='white', ec='#1a1a1a', lw=1.0))
    fig.text(p['title_xy'][0] / W, 1 - p['title_xy'][1] / H, panel_titles[i],
             ha='left', va='center', fontsize=15.3, color='#1a1a1a')

fig.savefig('out.png', dpi=100)
